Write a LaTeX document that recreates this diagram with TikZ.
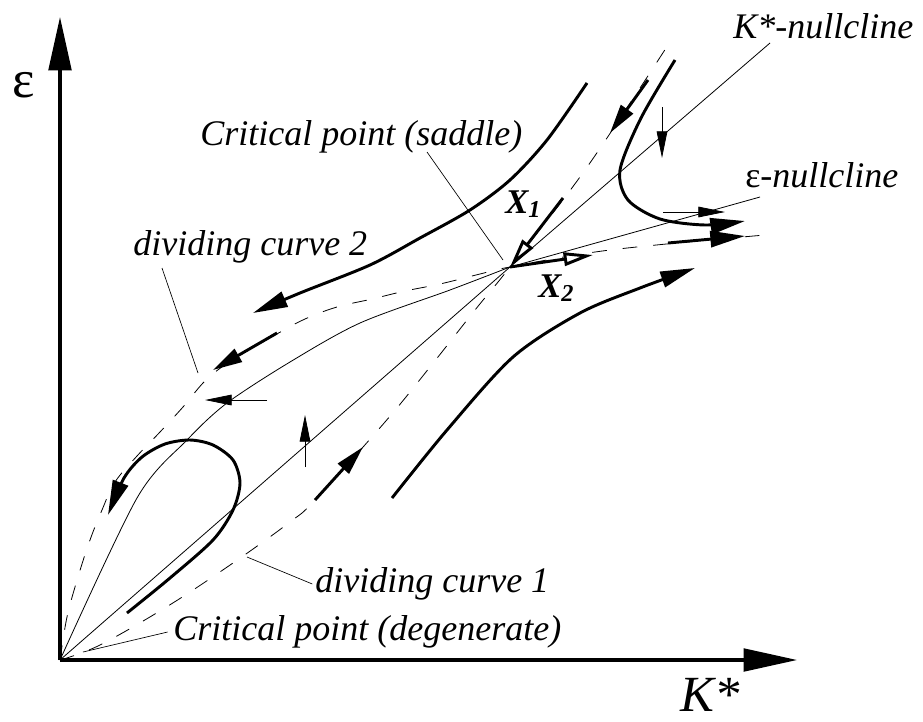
\documentclass[tikz,border=0pt]{standalone}
\usepackage{fontspec}
\setmainfont{Liberation Serif}
\usetikzlibrary{arrows.meta}

\begin{document}
\begin{tikzpicture}[x=0.75pt, y=-0.75pt,
  axis/.style={line width=2.3pt, -{Triangle[length=40pt,width=17pt]}},
  nullcline/.style={line width=0.6pt},
  dividing/.style={line width=0.6pt, dash pattern=on 11pt off 12pt},
  traj/.style={line width=2.2pt, -{Triangle[length=26pt,width=12pt]}},
  short/.style={line width=2.2pt, -{Triangle[length=22pt,width=11pt]}},
  flow/.style={line width=0.6pt, -{Triangle[length=20pt,width=8pt]}},
  eigen/.style={line width=2.2pt, -{Triangle[fill=white,length=22pt,width=10pt]}},
  leader/.style={line width=0.5pt},
  lbl/.style={font=\fontsize{27}{31}\selectfont\itshape, inner sep=0pt, anchor=base west}
]
\useasboundingbox (0,0) rectangle (923,721);

% critical points
\coordinate (O) at (60,660);
\coordinate (S) at (510,267);

% axes
\draw[axis] (O) -- (60,17);
\draw[axis] (O) -- (797,660);
\node[lbl, font=\fontsize{40}{40}\selectfont] (eps) at (12,97) {ε};
\node[lbl, font=\fontsize{38}{38}\selectfont\itshape] (kstar) at (680,711) {K*};

% nullclines
\draw[nullcline] (O) -- (S) -- (770,43) coordinate (knullend);
\draw[nullcline] plot[smooth, tension=0.5] coordinates
  {(60,660) (137,498) (187,440) (227,403) (290,362) (360,323) (450,290) (510,267)}
  -- (760,197) coordinate (enullend);

% dividing curves
\draw[dividing] plot[smooth, tension=0.6] coordinates
  {(60,660) (67,617) (78,577) (90,540) (102,510) (115,482) (137,456) (160,432)
   (183,407) (208,378) (240,355) (275,335) (305,319) (337,307) (372,299)
   (405,291) (440,284) (480,274) (510,267) (610,250) (765,235)};
\draw[dividing] plot[smooth, tension=0.6] coordinates
  {(60,660) (100,645) (168,606) (233,563) (290,522) (315,500) (385,422)
   (430,367) (475,310) (510,267) (585,170) (668,45)};

% trajectories
\draw[traj] plot[smooth] coordinates
  {(587,83) (547,140) (510,180) (470,210) (420,238) (370,265) (300,293) (253,313)};
\draw[traj] plot[smooth] coordinates
  {(127,613) (170,578) (213,540) (233,510) (240,483) (233,460) (213,445)
   (190,440) (165,444) (142,457) (124,478) (108,515)};
\draw[traj] plot[smooth] coordinates
  {(392,498) (447,430) (513,357) (580,313) (640,288) (695,268)};
\draw[traj] plot[smooth] coordinates
  {(675,60) (641,118) (620,170) (628,200) (660,219) (705,225) (745,221)};
\draw[traj] (668,243) -- (745,236);

% flow along dividing curves
\draw[short] (277,333) -- (213,370);
\draw[short] (315,500) -- (363,447);
\draw[short] (648,80) -- (610,133);

% flow direction on nullclines
\draw[flow] (267,400) -- (205,400);
\draw[flow] (305,467) -- (305,415);
\draw[flow] (662,107) -- (662,158);
\draw[flow] (663,212) -- (725,212);

% eigenvectors at the saddle
\draw[eigen] (563,198) -- (S);
\draw[eigen] (S) -- (593,255);
\node[lbl, font=\fontsize{26}{26}\selectfont\bfseries\itshape] (xone) at (505,213) {X\textsubscript{1}};
\node[lbl, font=\fontsize{26}{26}\selectfont\bfseries\itshape] (xtwo) at (538,297) {X\textsubscript{2}};

% labels and leaders
\node[lbl] (knull) at (733,38) {K*-nullcline};
\node[lbl] (enull) at (745,187) {{\upshape ε}-nullcline};
\node[lbl] (saddlelbl) at (200,145) {Critical point (saddle)};
\node[lbl] (div2lbl) at (133,255) {dividing curve 2};
\node[lbl] (div1lbl) at (315,592) {dividing curve 1};
\node[lbl] (degenlbl) at (173,640) {Critical point (degenerate)};

\coordinate (saddlept) at (503,260);
\coordinate (div2pt) at (198,373);
\coordinate (div1pt) at (247,557);
\coordinate (degenpt) at (83,652);
\draw[leader] (saddlept) -- (427,152);
\draw[leader] (div2pt) -- (162,268);
\draw[leader] (div1pt) -- ([xshift=-2pt, yshift=6pt]div1lbl.base west);
\draw[leader] (degenpt) -- ([xshift=-4pt, yshift=6pt]degenlbl.base west);
\end{tikzpicture}
\end{document}
